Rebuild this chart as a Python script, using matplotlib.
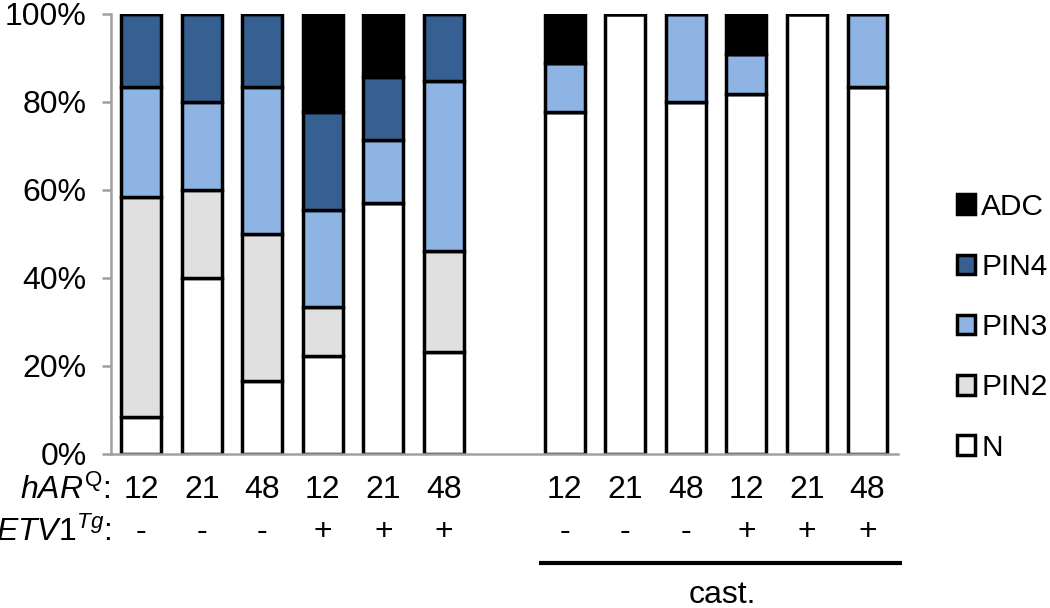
import numpy as np
import matplotlib
matplotlib.use("Agg")
import matplotlib.pyplot as plt
from matplotlib.patches import Patch
import matplotlib.transforms as mtransforms

plt.rcParams['font.family'] = ['Liberation Sans', 'DejaVu Sans']
plt.rcParams['mathtext.fontset'] = 'custom'
plt.rcParams['mathtext.rm'] = 'Liberation Sans'
plt.rcParams['mathtext.it'] = 'Liberation Sans:italic'

# data (percent of mice per grade)
har_q = ['12', '21', '48', '12', '21', '48', '12', '21', '48', '12', '21', '48']
etv1 = ['-', '-', '-', '+', '+', '+', '-', '-', '-', '+', '+', '+']
N    = [8.3, 40.0, 16.7, 22.2, 57.1, 23.1, 77.8, 100.0, 80.0, 81.8, 100.0, 83.3]
PIN2 = [50.0, 20.0, 33.3, 11.1, 0.0, 23.1, 0.0, 0.0, 0.0, 0.0, 0.0, 0.0]
PIN3 = [25.0, 20.0, 33.3, 22.2, 14.3, 38.5, 11.1, 0.0, 20.0, 9.1, 0.0, 16.7]
PIN4 = [16.7, 20.0, 16.7, 22.2, 14.3, 15.4, 0.0, 0.0, 0.0, 0.0, 0.0, 0.0]
ADC  = [0.0, 0.0, 0.0, 22.2, 14.3, 0.0, 11.1, 0.0, 0.0, 9.1, 0.0, 0.0]
grades = ['N', 'PIN2', 'PIN3', 'PIN4', 'ADC']
colors = ['#ffffff', '#e0e0e0', '#8eb4e3', '#376092', '#000000']

fig = plt.figure(figsize=(10.5, 6.08), dpi=100)
ax = fig.add_axes([0.1057, 0.2533, 0.855 - 0.1057, 0.977 - 0.2533])

x = np.r_[0:6, 7:13]
bottom = np.zeros(len(x))
for vals, name, c in zip([N, PIN2, PIN3, PIN4, ADC], grades, colors):
    vals = np.array(vals)
    ax.bar(x, vals, 0.66, bottom=bottom, color=c, edgecolor='black',
           linewidth=2.5, label=name)
    bottom += vals

ax.set_xlim(-0.5, 12.5)
ax.set_ylim(0, 100)
ax.set_yticks([0, 20, 40, 60, 80, 100])
ax.set_yticklabels(['0%', '20%', '40%', '60%', '80%', '100%'], fontsize=23)
ax.set_xticks([])
for s in ['top', 'right']:
    ax.spines[s].set_visible(False)
for s in ['left', 'bottom']:
    ax.spines[s].set_color('#a0a0a0')
    ax.spines[s].set_linewidth(1.8)
ax.tick_params(axis='y', color='#a0a0a0', width=1.8, length=6.5, pad=11)

trans = mtransforms.blended_transform_factory(ax.transData, ax.transAxes)
for xi, a, e in zip(x, har_q, etv1):
    ax.text(xi, -0.082, a, transform=trans, ha='center', va='center', fontsize=23)
    ax.text(xi, -0.177, e, transform=trans, ha='center', va='center', fontsize=23)
ax.text(-0.5, -0.082, r'$\mathit{hAR}^{\mathrm{Q}}$:', transform=trans,
        ha='right', va='center', fontsize=23)
ax.text(-0.5, -0.177, r'$\mathit{ETV1}^{\mathit{Tg}}$:', transform=trans,
        ha='right', va='center', fontsize=23)

ax.plot([6.58, 12.57], [-0.248, -0.248], transform=trans, color='black',
        linewidth=3, clip_on=False, solid_capstyle='butt')
ax.text(9.6, -0.32, 'cast.', transform=trans, ha='center', va='center', fontsize=23)

handles = [Patch(facecolor=c, edgecolor='black', linewidth=2.5, label=g)
           for g, c in zip(grades, colors)][::-1]
fig.legend(handles=handles, loc='center left', bbox_to_anchor=(0.911, 0.462),
           frameon=False, fontsize=21.5, handlelength=0.62, handleheight=0.62,
           handletextpad=0.2, labelspacing=1.08, borderpad=0, borderaxespad=0)

fig.savefig('out.png', dpi=100)
